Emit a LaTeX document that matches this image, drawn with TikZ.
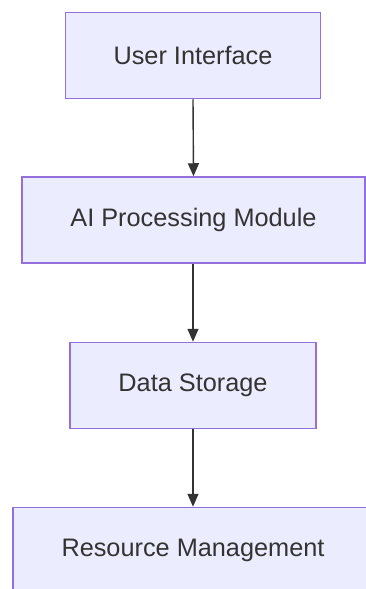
\documentclass[tikz,border=0pt]{standalone}
\usepackage{fontspec}
\setmainfont{Liberation Sans}
\usetikzlibrary{arrows.meta}
\definecolor{boxfill}{HTML}{ECECFF}
\definecolor{boxline}{HTML}{9370DB}
\definecolor{ink}{HTML}{333333}
\begin{document}
\begin{tikzpicture}[x=1pt,y=-1pt,
  box/.style={draw=boxline,fill=boxfill,line width=1.5pt,minimum height=86pt,
    inner sep=0pt,text=ink,font=\fontsize{25.3}{30}\selectfont},
  link/.style={draw=ink,line width=1.4pt,-{Triangle[length=13pt,width=11pt]}}]
\useasboundingbox (0,0) rectangle (366,589);
\node[box,minimum width=255pt] (ui) at (193,55.5) {User Interface};
\node[box,minimum width=343pt] (ai) at (193.5,220) {AI Processing Module};
\node[box,minimum width=246pt] (ds) at (193,385.5) {Data Storage};
\node[box,minimum width=360pt] (rm) at (193,550.5) {Resource Management};
\draw[link] (ui.south) -- (ai.north);
\draw[link] (ai.south -| ds.north) -- (ds.north);
\draw[link] (ds.south) -- (rm.north);
\end{tikzpicture}
\end{document}
